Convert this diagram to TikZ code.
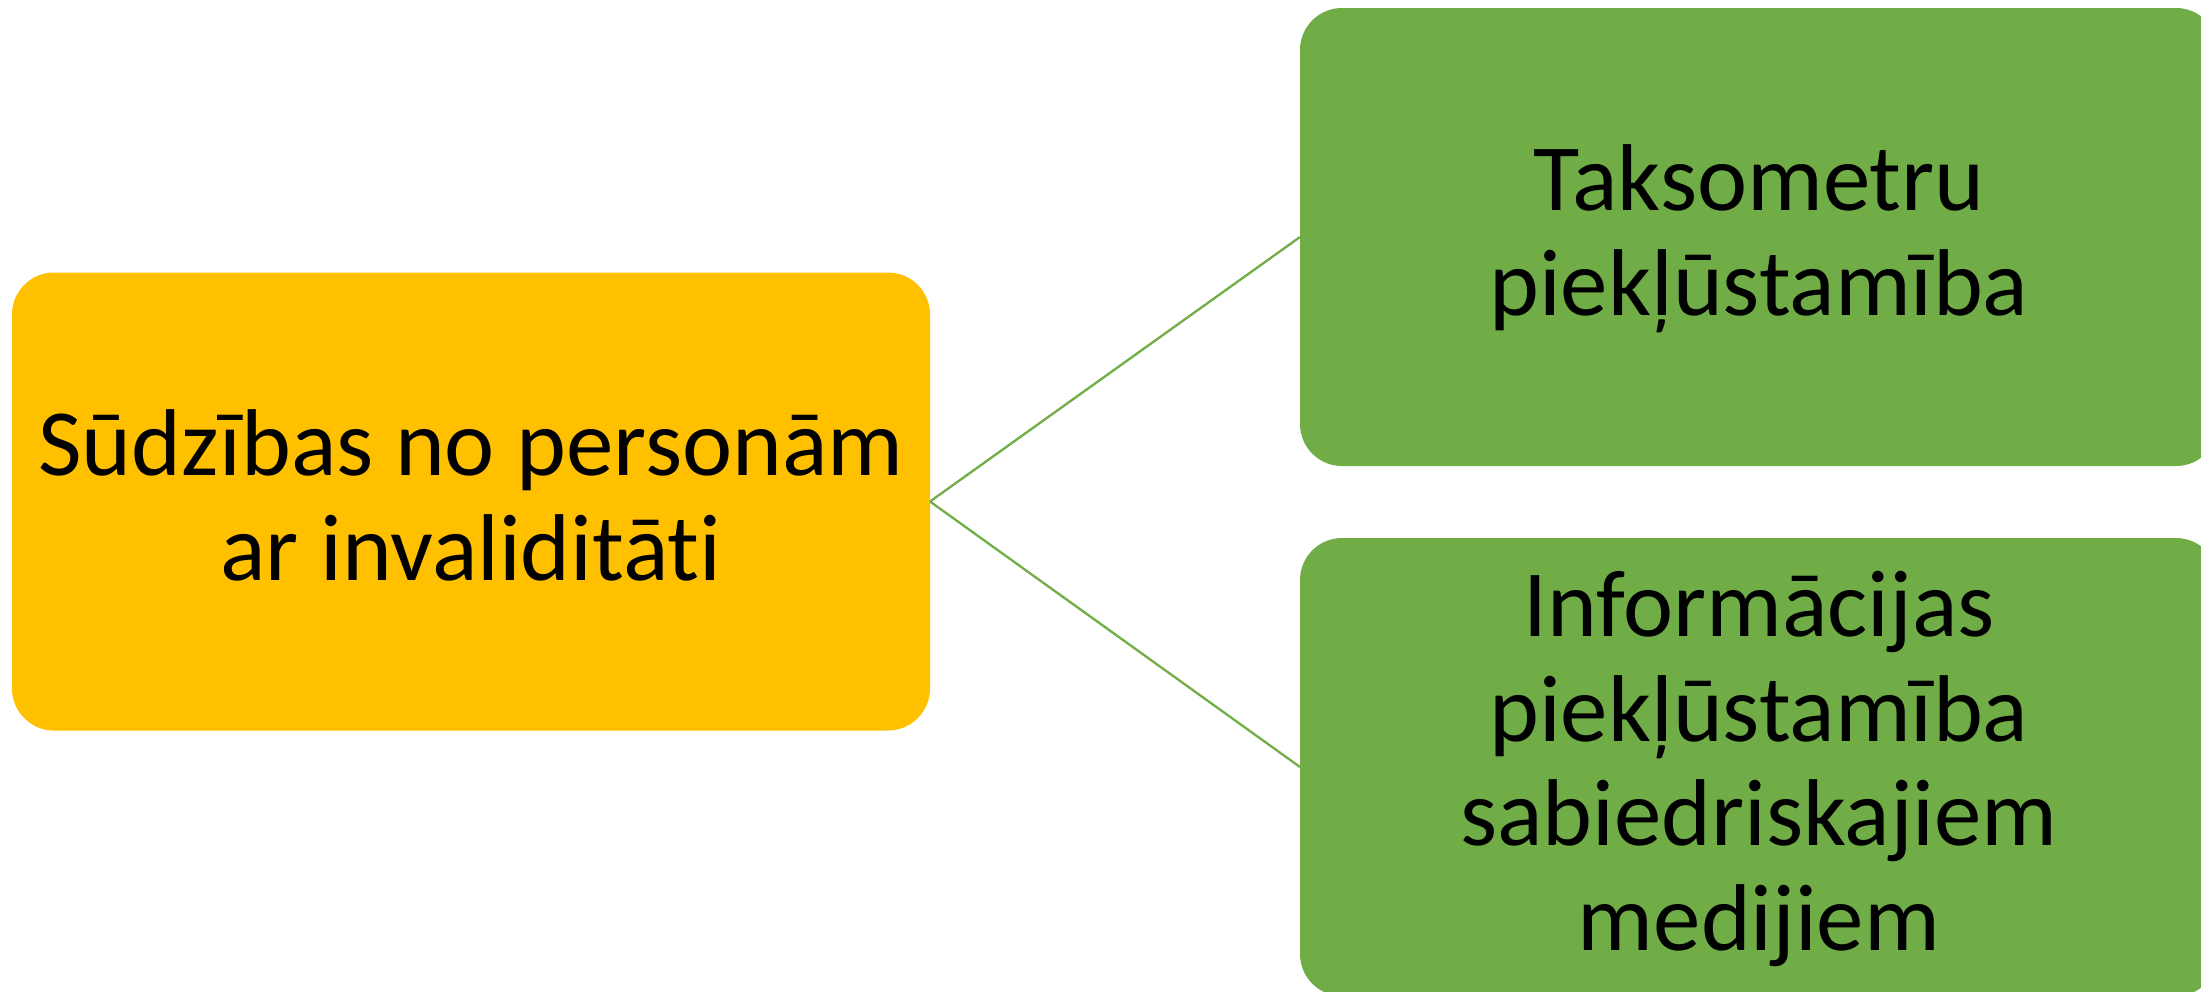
\documentclass[tikz,border=0pt]{standalone}
\usepackage{fontspec}
\setmainfont[Ligatures=NoCommon]{Carlito}
\definecolor{boxyellow}{HTML}{FFC000}
\definecolor{boxgreen}{HTML}{70AD47}
\tikzset{
  box/.style={rectangle, rounded corners=0.84cm, inner sep=0pt, outer sep=0pt,
    minimum width=18.36cm, minimum height=9.16cm, align=center,
    font=\fontsize{54}{59.5}\selectfont, text=black},
  twoline/.style={text height=3.74cm, text depth=0.6cm},
  fourline/.style={text height=7.94cm, text depth=0.6cm},
  link/.style={draw=boxgreen, line width=1.3pt}
}
\begin{document}
\begin{tikzpicture}
\useasboundingbox (0,0) rectangle (44.02,-19.82);
\node[box, twoline, fill=boxyellow] (src) at (9.42,-10.03) {Sūdzības no personām\\ar invaliditāti};
\node[box, twoline, fill=boxgreen] (taxi) at (35.18,-4.74) {Taksometru\\piekļūstamība};
\node[box, fourline, fill=boxgreen] (info) at (35.18,-15.34) {Informācijas\\piekļūstamība\\sabiedriskajiem\\medijiem};
\draw[link] (src.east) -- (taxi.west);
\draw[link] (src.east) -- (info.west);
\end{tikzpicture}
\end{document}
